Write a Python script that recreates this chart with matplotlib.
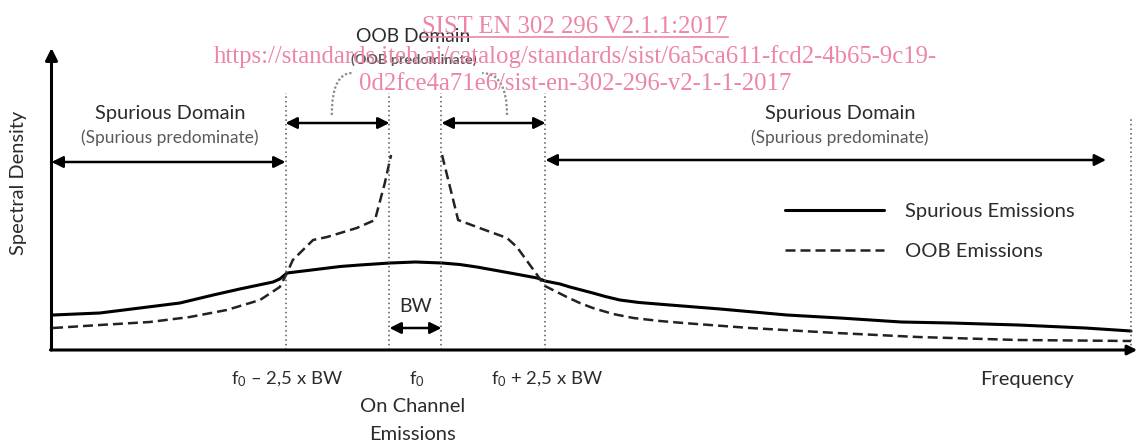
import numpy as np
import matplotlib
matplotlib.use('Agg')
import matplotlib.pyplot as plt
from matplotlib.path import Path
from matplotlib.patches import PathPatch
from matplotlib.lines import Line2D

plt.rcParams['font.family'] = ['Lato', 'DejaVu Sans']
plt.rcParams['mathtext.fontset'] = 'custom'
plt.rcParams['mathtext.rm'] = 'Lato'
plt.rcParams['mathtext.it'] = 'Lato:italic'

# frequency is in units of BW, measured from f0; density in arbitrary units
spur_freq = [-6.97, -6.07, -5.30, -4.53, -3.89, -3.38, -2.74, -2.61, -2.47, -1.84,
             -1.45, -1.07, -0.49, 0.0, 0.51, 0.85, 1.18, 1.5, 1.82, 2.34,
             2.49, 2.78, 2.97, 3.41, 3.65, 3.93, 4.3, 4.89, 5.86, 7.14,
             8.16, 9.34, 10.30, 11.59, 12.88, 13.76]
spur_level = [35, 37, 42, 47, 55, 61, 68, 71, 77, 81,
              83.5, 85, 87, 88, 87, 85.5, 83, 80, 77, 72,
              69, 66, 63, 57, 53.5, 50, 47.5, 45, 41, 35,
              32, 28, 27, 25, 22, 19]

# OOB curve: left part, gap over the channel, right part
oob_freq = [-6.97, -6.07, -5.11, -4.34, -3.63, -2.99, -2.61, -2.47, -2.36, -1.97,
            -1.70, -1.13, -0.78, -0.59, -0.47, np.nan,
            0.51, 0.63, 0.82, 1.18, 1.76, 1.95, 2.34, 2.49, 2.91, 3.16,
            3.41, 3.8, 4.19, 4.7, 5.15, 6.43, 8.10, 9.66, 11.59, 13.76]
oob_level = [22, 25, 28, 33, 40, 50, 63, 77, 90, 110,
             113, 122, 130, 167, 195, np.nan,
             195, 170, 130, 123, 112, 103, 75, 64, 53, 47,
             42, 36, 32, 29, 27, 22, 17, 13, 10, 9]

domain_edges = [-2.5, -0.5, 0.5, 2.5]
f_min, f_max = -7.0, 13.76
tick_freqs = [-2.5, 0.0, 2.5]
tick_labels = [r'f$_\mathrm{0}$ – 2,5 x BW', r'f$_\mathrm{0}$', r'f$_\mathrm{0}$ + 2,5 x BW']

watermark = ['SIST EN 302 296 V2.1.1:2017',
             'https://standards.iteh.ai/catalog/standards/sist/6a5ca611-fcd2-4b65-9c19-',
             '0d2fce4a71e6/sist-en-302-296-v2-1-1-2017']

W, H = 1138, 441
fig = plt.figure(figsize=(W / 100, H / 100), dpi=100)
ax = fig.add_axes([0, 0, 1, 1])
# f0 sits at pixel 415.5, one BW is 52 px, zero density at pixel row 350
ax.set_xlim((0 - 415.5) / 52, (W - 415.5) / 52)
ax.set_ylim(-(H - 350), 350)
ax.axis('off')

txt = '#2b2b2b'
grey = '#5a5a5a'

# curves
spur_line, = ax.plot(spur_freq, spur_level, color='black', lw=2.2, solid_capstyle='round')
oob_line, = ax.plot(oob_freq, oob_level, color='#222222', lw=1.8, ls=(0, (4, 2)))

# axes with arrows
ax.annotate('', xy=(f_min, 302), xytext=(f_min, 0),
            arrowprops=dict(arrowstyle='-|>', lw=2.2, color='black', mutation_scale=18,
                            shrinkA=0, shrinkB=0))
ax.annotate('', xy=(13.88, 0), xytext=(f_min - 0.02, 0),
            arrowprops=dict(arrowstyle='-|>', lw=2.2, color='black', mutation_scale=14,
                            shrinkA=0, shrinkB=0))

# dotted domain boundaries
for f in domain_edges:
    ax.plot([f, f], [0, 257], color='#555555', lw=1.1, ls=(0, (1, 2)))
ax.plot([f_max, f_max], [0, 232], color='#555555', lw=1.1, ls=(0, (1, 2)))


def double_arrow(x0, x1, y):
    ax.annotate('', xy=(x1, y), xytext=(x0, y),
                arrowprops=dict(arrowstyle='<|-|>', lw=1.8, color='black', mutation_scale=17,
                                shrinkA=0, shrinkB=0))


double_arrow(f_min, domain_edges[0], 188)
double_arrow(domain_edges[0], domain_edges[1], 227)
double_arrow(domain_edges[2], domain_edges[3], 227)
double_arrow(domain_edges[3], 13.28, 190)
double_arrow(domain_edges[1], domain_edges[2], 22)

# curved dotted links from "OOB Domain" to the OOB arrows
for (xa, ya), (xc, yc), (xb, yb) in [((-1.61, 235), (-1.61, 277), (-1.22, 277)),
                                     ((1.76, 235), (1.76, 277), (1.28, 277))]:
    p = Path([(xa, ya), (xc, yc), (xb, yb)], [Path.MOVETO, Path.CURVE3, Path.CURVE3])
    ax.add_patch(PathPatch(p, fill=False, edgecolor='#8a8a8a', lw=1.6, ls=(0, (1, 1))))

# texts
ax.text(-7.64, 167, 'Spectral Density', rotation=90, ha='center', va='center',
        fontsize=14.4, color=txt)
ax.text(11.76, -30, 'Frequency', ha='center', va='center', fontsize=14.5, color=txt)
for f, lab in zip(tick_freqs, tick_labels):
    ax.text(f + 0.03, -29, lab, ha='center', va='center', fontsize=13.3, color=txt)
ax.text(-0.05, -57, 'On Channel', ha='center', va='center', fontsize=14.5, color=txt)
ax.text(-0.05, -84, 'Emissions', ha='center', va='center', fontsize=14.5, color=txt)
ax.text(0.0, 43, 'BW', ha='center', va='center', fontsize=14, color=txt)

ax.text(-0.05, 313, 'OOB Domain', ha='center', va='center', fontsize=13.9, color=txt)
ax.text(-0.03, 290, '(OOB predominate)', ha='center', va='center', fontsize=10.4,
        color=grey, fontweight='bold')
for xc in [-4.72, 8.16]:
    ax.text(xc, 237, 'Spurious Domain', ha='center', va='center', fontsize=14.4, color=txt)
    ax.text(xc, 212, '(Spurious predominate)', ha='center', va='center', fontsize=12.5,
            color=grey)

ax.legend([spur_line, Line2D([], [], color='#222222', lw=1.8, ls=(0, (4, 2)))],
          ['Spurious Emissions', 'OOB Emissions'],
          loc='upper left', bbox_to_anchor=(785 / W, 1 - 203 / H),
          frameon=False, fontsize=14.6, handlelength=4.9, handletextpad=1.0,
          labelspacing=1.1, borderpad=0, borderaxespad=0, labelcolor=txt)

# watermark
pink = '#ec86a4'
baselines = [33, 63, 90]
wm_texts = []
for s, yb in zip(watermark, baselines):
    t = fig.text(575 / W, 1 - yb / H, s, ha='center', va='baseline', fontsize=17.8,
                 family='Liberation Serif', color=pink)
    wm_texts.append(t)
fig.canvas.draw()
bb = wm_texts[0].get_window_extent(fig.canvas.get_renderer())
fig.add_artist(Line2D([bb.x0 / W, bb.x1 / W], [1 - 37 / H, 1 - 37 / H], color=pink, lw=1.2))

fig.savefig('out.png', dpi=100)
